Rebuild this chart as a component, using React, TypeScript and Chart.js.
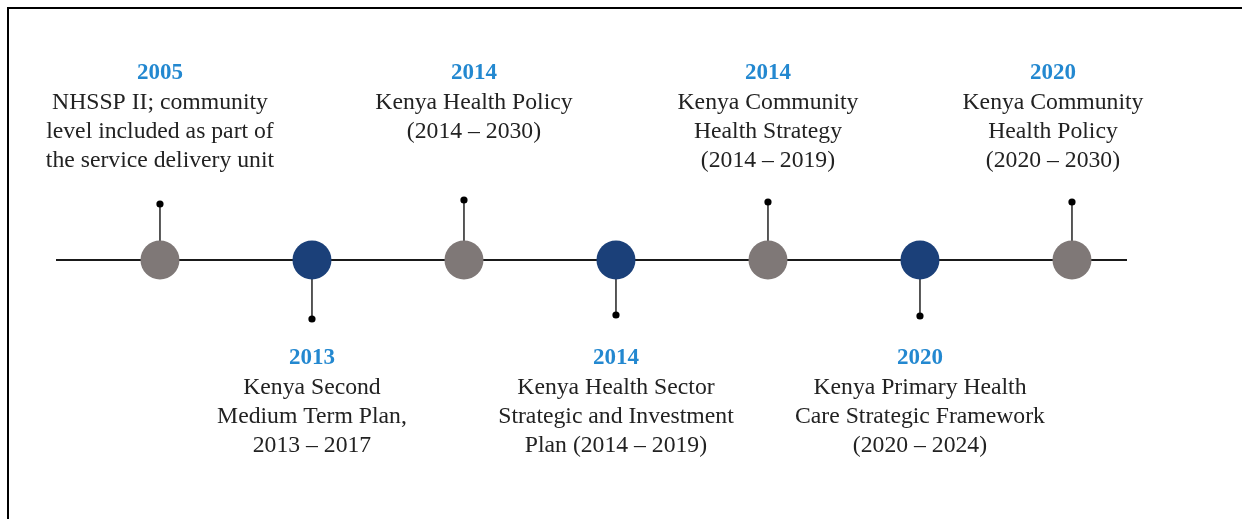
import React, { useEffect, useRef } from "react";
import { Chart, registerables } from "chart.js";

Chart.register(...registerables);

// ---- data ----
const years = ["2005", "2013", "2014", "2014", "2014", "2020", "2020"];
const descriptions: string[][] = [
  ["NHSSP II; community", "level included as part of", "the service delivery unit"],
  ["Kenya Second", "Medium Term Plan,", "2013 – 2017"],
  ["Kenya Health Policy", "(2014 – 2030)"],
  ["Kenya Health Sector", "Strategic and Investment", "Plan (2014 – 2019)"],
  ["Kenya Community", "Health Strategy", "(2014 – 2019)"],
  ["Kenya Primary Health", "Care Strategic Framework", "(2020 – 2024)"],
  ["Kenya Community", "Health Policy", "(2020 – 2030)"],
];
const kinds = ["gray", "navy", "gray", "navy", "gray", "navy", "gray"];
const stemEnds = [56, -59, 60, -55, 58, -56, 58];
const axisRange = [-0.684, 6.362];

// ---- style ----
const GRAY = "#7f7877";
const NAVY = "#1b4079";
const YEAR_BLUE = "#2388d0";
const TEXT = "#222222";
const FONT = "'Liberation Serif', 'Times New Roman', serif";
const labelShift = [0, 0, 10, 0, 0, 0, -19];

export default function App() {
  const ref = useRef<HTMLCanvasElement | null>(null);

  useEffect(() => {
    if (!ref.current) return;

    const textPlugin = {
      id: "timelineText",
      afterDraw(chart: any) {
        const ctx = chart.ctx;
        const xs = chart.scales.x;
        ctx.save();
        // frame
        ctx.strokeStyle = "#000";
        ctx.lineWidth = 2;
        ctx.beginPath();
        ctx.moveTo(8, 519);
        ctx.lineTo(8, 8);
        ctx.lineTo(1242, 8);
        ctx.stroke();

        ctx.textAlign = "center";
        ctx.textBaseline = "middle";
        years.forEach((yr, i) => {
          const cx = xs.getPixelForValue(i) + labelShift[i];
          const up = stemEnds[i] > 0;
          const lines = descriptions[i];
          const yearY = up ? 73 : 358;
          ctx.fillStyle = YEAR_BLUE;
          ctx.font = `bold 23px ${FONT}`;
          ctx.fillText(yr, cx, yearY);
          ctx.fillStyle = TEXT;
          ctx.font = `23.7px ${FONT}`;
          lines.forEach((ln, j) => {
            ctx.fillText(ln, cx, yearY + 30 + j * 29);
          });
        });
        ctx.restore();
      },
    };

    const stemDatasets = stemEnds.map((v, i) => ({
      type: "line" as const,
      data: [
        { x: i, y: 0 },
        { x: i, y: v },
      ],
      borderColor: "#222",
      borderWidth: 1.5,
      pointRadius: [0, 3.6],
      pointBackgroundColor: "#000",
      pointBorderWidth: 0,
      order: 1,
    }));

    const chart = new Chart(ref.current, {
      type: "scatter",
      data: {
        datasets: [
          {
            type: "scatter",
            data: years.map((_, i) => ({ x: i, y: 0 })),
            pointRadius: 19.5,
            pointBackgroundColor: kinds.map((k) => (k === "gray" ? GRAY : NAVY)),
            pointBorderWidth: 0,
            order: 0,
          },
          ...stemDatasets,
          {
            type: "line",
            data: [
              { x: axisRange[0], y: 0 },
              { x: axisRange[1], y: 0 },
            ],
            borderColor: "#1a1a1a",
            borderWidth: 1.8,
            pointRadius: 0,
            order: 2,
          },
        ] as any,
      },
      options: {
        animation: false,
        responsive: false,
        events: [],
        layout: { autoPadding: false, padding: { left: 56, right: 115, top: 0, bottom: 0 } },
        plugins: { legend: { display: false }, tooltip: { enabled: false } },
        scales: {
          x: { type: "linear", min: axisRange[0], max: axisRange[1], display: false },
          y: { type: "linear", min: -259, max: 260, display: false },
        },
      },
      plugins: [textPlugin],
    });
    return () => chart.destroy();
  }, []);

  return (
    <div style={{ position: "absolute", left: 0, top: 0, width: 1242, height: 519, background: "#fff" }}>
      <canvas ref={ref} width={1242} height={519} style={{ display: "block" }} />
    </div>
  );
}
